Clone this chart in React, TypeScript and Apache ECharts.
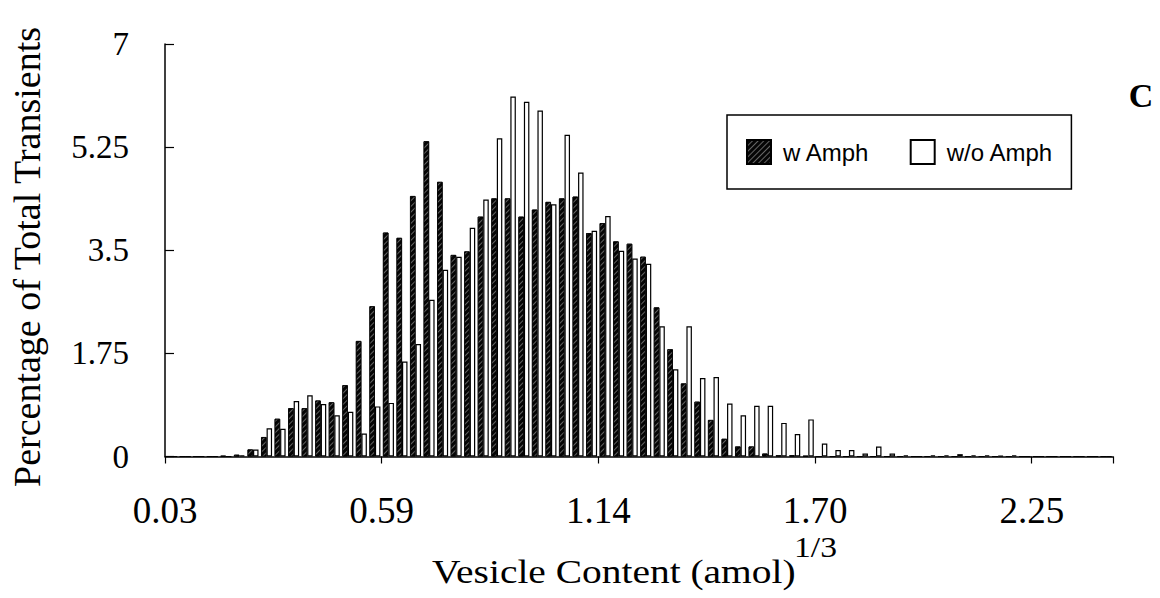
import React, { useEffect, useRef } from "react";
import * as echarts from "echarts";

// Bin starts (amol^1/3), 16 bins per labelled tick
const binCount = 70;
const binWidth = 0.0346875;
const categories: string[] = Array.from({ length: binCount }, (_, i) => (0.03 + i * binWidth).toFixed(3));
const tickLabels = ["0.03", "0.59", "1.14", "1.70", "2.25"];
const binsPerTick = 16;

const withAmph = [
  0, 0, 0, 0, 0.01, 0.03, 0.12, 0.33, 0.64, 0.82,
  0.82, 0.95, 0.92, 1.21, 1.96, 2.55, 3.8, 3.71, 4.42, 5.35,
  4.66, 3.42, 3.48, 4.07, 4.38, 4.38, 4.07, 4.19, 4.32, 4.38,
  4.41, 3.79, 3.96, 3.65, 3.61, 3.39, 2.53, 1.82, 1.24, 0.93,
  0.62, 0.3, 0.17, 0.17, 0.05, 0.02, 0.02, 0.01, 0, 0,
  0, 0, 0, 0, 0, 0, 0, 0, 0, 0,
  0, 0, 0, 0, 0, 0, 0, 0, 0, 0,
];

const withoutAmph = [
  0, 0, 0, 0, 0, 0.02, 0.12, 0.48, 0.47, 0.94,
  1.04, 0.89, 0.7, 0.76, 0.39, 0.85, 0.91, 1.61, 1.91, 2.66,
  3.17, 3.39, 3.88, 4.36, 5.4, 6.11, 6.02, 5.87, 4.28, 5.46,
  4.82, 3.83, 4.08, 3.49, 3.36, 3.27, 2.21, 1.48, 2.21, 1.33,
  1.35, 0.9, 0.7, 0.86, 0.86, 0.57, 0.38, 0.63, 0.22, 0.11,
  0.11, 0.05, 0.17, 0.05, 0.02, 0, 0.02, 0.02, 0.04, 0.02,
  0.02, 0.01, 0.02, 0, 0, 0, 0, 0, 0, 0,
];

const yMax = 7;
const yStep = 1.75;

const SERIF = "'Liberation Serif', 'Times New Roman', serif";
const SANS = "'Liberation Sans', Arial, sans-serif";

export default function App() {
  const ref = useRef<HTMLDivElement>(null);
  useEffect(() => {
    if (!ref.current) return;
    const chart = echarts.init(ref.current, null, { renderer: "svg" });
    chart.setOption({
      animation: false,
      backgroundColor: "#fff",
      grid: { left: 165, right: 47, top: 44, bottom: 141.5, containLabel: false },
      legend: {
        left: 727,
        top: 115,
        orient: "horizontal",
        padding: [24, 18, 24, 19],
        borderColor: "#000",
        borderWidth: 1.5,
        itemWidth: 24,
        itemHeight: 24,
        itemGap: 40,
        icon: "rect",
        textStyle: { fontFamily: SANS, fontSize: 24, color: "#000", padding: [0, 0, 0, 7] },
        data: ["w Amph", "w/o Amph"],
      },
      xAxis: {
        type: "category",
        data: categories,
        boundaryGap: true,
        axisLine: { lineStyle: { color: "#000", width: 1.5 } },
        axisTick: { show: true, interval: binsPerTick - 1, length: 7, lineStyle: { color: "#000", width: 1.2 } },
        axisLabel: {
          interval: binsPerTick - 1,
          fontFamily: SERIF,
          fontSize: 37,
          lineHeight: 28,
          color: "#000",
          margin: 39.5,
          padding: [0, 13.5, 0, 0],
          formatter: (_v: string, i: number) => (i % binsPerTick === 0 ? tickLabels[i / binsPerTick] ?? "" : ""),
        },
        splitLine: { show: false },
      },
      yAxis: {
        type: "value",
        min: 0,
        max: yMax,
        interval: yStep,
        axisLine: { show: true, lineStyle: { color: "#000", width: 1.5 } },
        axisTick: { show: true, inside: true, length: 9, lineStyle: { color: "#000", width: 1.2 } },
        axisLabel: { fontFamily: SERIF, fontSize: 33, color: "#000", margin: 36 },
        splitLine: { show: false },
      },
      series: [
        {
          name: "w Amph",
          type: "bar",
          data: withAmph,
          barWidth: 5.5,
          barGap: "0%",
          itemStyle: {
            color: "#050505",
            borderColor: "#000",
            borderWidth: 0.8,
            decal: {
              symbol: "rect",
              symbolSize: 1,
              dashArrayX: [1, 0],
              dashArrayY: [1, 3],
              rotation: -Math.PI / 4,
              color: "rgba(255,255,255,0.38)",
            },
          },
        },
        {
          name: "w/o Amph",
          type: "bar",
          data: withoutAmph,
          barWidth: 5.5,
          barGap: "0%",
          itemStyle: { color: "#fff", borderColor: "#000", borderWidth: 1.2 },
        },
      ],
      graphic: [
        {
          type: "text",
          x: 27,
          y: 257,
          rotation: Math.PI / 2,
          style: {
            text: "Percentage of Total Transients",
            font: `38px ${SERIF}`,
            fill: "#000",
            textAlign: "center",
            textVerticalAlign: "middle",
          },
        },
        {
          type: "text",
          x: 432,
          y: 571,
          scaleX: 1.16,
          style: {
            text: "Vesicle Content (amol)",
            font: `34px ${SERIF}`,
            fill: "#000",
            textAlign: "left",
            textVerticalAlign: "middle",
          },
        },
        {
          type: "text",
          x: 794,
          y: 547,
          scaleX: 1.12,
          style: {
            text: "1/3",
            font: `30px ${SERIF}`,
            lineHeight: 22,
            fill: "#000",
            textAlign: "left",
            textVerticalAlign: "middle",
          },
        },
        {
          type: "text",
          x: 1141,
          y: 95,
          style: {
            text: "C",
            font: `bold 34px ${SERIF}`,
            fill: "#000",
            textAlign: "center",
            textVerticalAlign: "middle",
          },
        },
      ],
    });
    return () => chart.dispose();
  }, []);
  return <div ref={ref} style={{ position: "absolute", left: 0, top: 0, width: 1160, height: 598 }} />;
}
